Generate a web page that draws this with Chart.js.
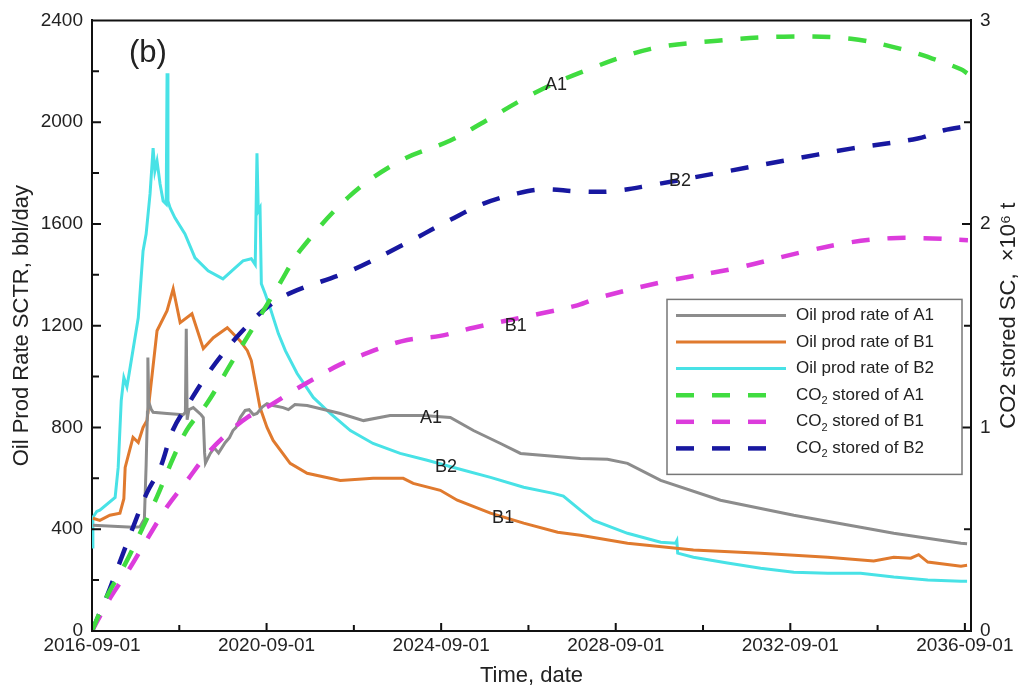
<!DOCTYPE html>
<html>
<head>
<meta charset="utf-8">
<script src="https://cdn.jsdelivr.net/npm/chart.js@4.4.1/dist/chart.umd.min.js"></script>
<style>
html, body { margin: 0; padding: 0; background: #fff; }
#wrap { width: 1026px; height: 692px; }
</style>
</head>
<body>
<div id="wrap"><canvas id="myChart" width="1026" height="692"></canvas></div>
<script>
// x values are years elapsed since 2016-09-01
const xTicks = [0, 2, 4, 6, 8, 10, 12, 14, 16, 18, 20];
const xTickLabels = ['2016-09-01', '', '2020-09-01', '', '2024-09-01', '', '2028-09-01', '', '2032-09-01', '', '2036-09-01'];
const yTicks = [0, 200, 400, 600, 800, 1000, 1200, 1400, 1600, 1800, 2000, 2200, 2400];
const yTickLabels = ['0', '', '400', '', '800', '', '1200', '', '1600', '', '2000', '', '2400'];
const y2Ticks = [0, 0.5, 1, 1.5, 2, 2.5, 3];
const y2TickLabels = ['0', '', '1', '', '2', '', '3'];

const seriesNames = ['Oil prod rate of A1', 'Oil prod rate of B1', 'Oil prod rate of B2',
    'CO₂ stored of A1', 'CO₂ stored of B1', 'CO₂ stored of B2'];

// Oil prod rate, bbl/day
const tOilA1 = [0.02, 0.94, 1.10, 1.20, 1.24, 1.27, 1.28, 1.30, 1.36, 1.40, 1.72, 2.09, 2.14, 2.16, 2.18, 2.22, 2.32, 2.50, 2.55,
    2.58, 2.60, 2.71, 2.80, 2.90, 3.05, 3.15, 3.23, 3.30, 3.40, 3.51, 3.60, 3.70, 3.78, 3.90, 4.01, 4.15, 4.38, 4.50, 4.65, 4.93,
    5.69, 6.22, 6.83, 7.59, 8.21, 8.74, 9.36, 9.82, 11.19, 11.81, 12.27, 13.03, 14.40, 16.08, 17.61, 18.37, 19.91, 20.05];
const oilA1 = [416, 408, 410, 440, 650, 860, 1075, 900, 870, 860, 855, 850, 860, 1188, 830, 870, 878, 850, 839,
    700, 660, 698, 720, 700, 740, 760, 788, 800, 840, 867, 870, 850, 855, 880, 894, 886, 878, 870, 890, 886,
    855, 827, 847, 847, 839, 788, 737, 698, 678, 675, 659, 592, 514, 455, 408, 384, 345, 343];

const tOilB1 = [0.02, 0.18, 0.41, 0.64, 0.73, 0.76, 0.94, 1.06, 1.17, 1.26, 1.49, 1.72, 1.86, 2.02, 2.29, 2.55, 2.78, 3.10,
    3.39, 3.56, 3.65, 3.85, 4.01, 4.15, 4.54, 4.93, 5.69, 6.44, 7.13, 7.36, 7.98, 8.37, 9.13, 9.89, 10.67, 11.19, 12.27,
    13.78, 15.32, 16.86, 17.91, 18.37, 18.76, 18.94, 19.15, 19.91, 20.05];
const oilB1 = [443, 435, 455, 463, 520, 643, 761, 741, 800, 827, 1180, 1259, 1345, 1212, 1247, 1110, 1153, 1192,
    1141, 1102, 1063, 878, 800, 749, 659, 620, 592, 600, 600, 580, 553, 514, 463, 424, 388, 376, 345,
    318, 306, 290, 275, 290, 286, 300, 271, 255, 258];

const tOilB2 = [0.00, 0.02, 0.11, 0.18, 0.53, 0.60, 0.67, 0.73, 0.80, 0.83, 1.06, 1.17, 1.24, 1.33, 1.40, 1.44, 1.49, 1.56,
    1.63, 1.70, 1.72, 1.74, 1.79, 1.90, 2.13, 2.36, 2.66, 3.00, 3.28, 3.46, 3.65, 3.74, 3.78, 3.81, 3.85, 3.88, 3.97, 4.08,
    4.27, 4.43, 4.70, 5.07, 5.46, 5.92, 6.44, 7.06, 7.68, 8.37, 9.13, 9.89, 10.57, 10.80, 11.19, 11.49, 12.27, 13.03,
    13.37, 13.40, 13.42, 13.78, 14.56, 15.32, 16.08, 16.86, 17.61, 18.37, 19.15, 19.91, 20.05];
const oilB2 = [330, 447, 470, 475, 525, 643, 906, 996, 960, 990, 1231, 1494, 1560, 1718, 1898, 1808, 1847, 1757,
    1690, 1678, 2192, 1690, 1663, 1624, 1561, 1467, 1416, 1384, 1427, 1455, 1463, 1440, 1878, 1650, 1663, 1365, 1325, 1271,
    1169, 1102, 1012, 918, 855, 788, 737, 698, 671, 639, 604, 565, 541, 530, 475, 435, 384, 349,
    345, 355, 306, 290, 267, 247, 231, 227, 227, 212, 200, 196, 196];

// CO2 stored, x10^6 t
const tCo2A1 = [0, 0.34, 0.76, 1.10, 1.49, 1.86, 2.18, 2.64, 3.23, 3.69, 4.31, 4.77, 5.92, 7.06, 8.21, 8.97, 10.11,
    11.26, 12.80, 14.33, 15.85, 17.39, 18.53, 19.29, 19.91, 20.05];
const co2A1 = [0, 0.17, 0.33, 0.48, 0.66, 0.85, 0.99, 1.12, 1.33, 1.49, 1.71, 1.87, 2.14, 2.31, 2.41, 2.50, 2.64,
    2.75, 2.86, 2.90, 2.92, 2.91, 2.86, 2.81, 2.76, 2.74];

const tCo2B1 = [0, 0.41, 0.87, 1.26, 1.72, 2.18, 2.64, 3.10, 3.56, 4.01, 4.61, 4.93, 5.69, 6.61, 7.22, 7.98, 8.74,
    10.28, 11.12, 11.65, 13.19, 14.70, 16.24, 17.39, 18.30, 19.06, 20.07];
const co2B1 = [0, 0.16, 0.31, 0.45, 0.61, 0.74, 0.87, 0.97, 1.05, 1.10, 1.18, 1.22, 1.31, 1.39, 1.43, 1.45, 1.49,
    1.56, 1.60, 1.64, 1.72, 1.78, 1.86, 1.91, 1.93, 1.93, 1.92];

const tCo2B2 = [0, 0.34, 0.64, 0.94, 1.26, 1.56, 1.86, 2.25, 2.64, 3.10, 3.56, 4.01, 4.54, 5.92, 7.06, 8.21, 8.97,
    9.75, 10.34, 11.12, 11.88, 12.80, 14.33, 15.85, 17.39, 18.92, 19.52, 20.05];
const co2B2 = [0, 0.17, 0.34, 0.51, 0.68, 0.80, 0.99, 1.13, 1.26, 1.39, 1.50, 1.59, 1.66, 1.77, 1.89, 2.02, 2.10,
    2.15, 2.17, 2.16, 2.16, 2.19, 2.25, 2.31, 2.37, 2.42, 2.46, 2.48];

// text labels placed next to curves
const curveLabels = [
    { text: 'A1', x: 10.63, y: 2.68, axis: 'y2' },
    { text: 'B2', x: 13.47, y: 2.21, axis: 'y2' },
    { text: 'B1', x: 9.71, y: 1.50, axis: 'y2' },
    { text: 'A1', x: 7.77, y: 839, axis: 'y' },
    { text: 'B2', x: 8.11, y: 643, axis: 'y' },
    { text: 'B1', x: 9.42, y: 443, axis: 'y' }
];

const FONT = "'Liberation Sans', Arial, sans-serif";
const TEXT = '#222';
const AXIS = '#111';
const rightTitle = 'CO2 stored SC,  ×10⁶ t';

function zip(ts, vs) {
    return ts.map((t, i) => ({ x: t, y: vs[i] }));
}

function lineSet(label, ts, vs, color, axis, dashed) {
    return {
        label: label,
        data: zip(ts, vs),
        yAxisID: axis,
        borderColor: color,
        backgroundColor: color,
        borderWidth: dashed ? 4.5 : 3,
        borderDash: dashed ? [18, 18] : [],
        pointRadius: 0,
        tension: dashed ? 0.35 : 0,
        order: dashed ? 1 : 2
    };
}

const framePlugin = {
    id: 'frame',
    afterDatasetsDraw(chart) {
        const ctx = chart.ctx;
        const a = chart.chartArea;
        const sx = chart.scales.x, sy = chart.scales.y, sy2 = chart.scales.y2;
        ctx.save();
        ctx.strokeStyle = AXIS;
        ctx.lineWidth = 2;
        ctx.beginPath();
        ctx.moveTo(a.left - 1, a.top);
        ctx.lineTo(a.right + 1, a.top);
        xTicks.forEach((v, i) => {
            const px = sx.getPixelForValue(v);
            const len = xTickLabels[i] ? 8 : 6;
            ctx.moveTo(px, a.bottom);
            ctx.lineTo(px, a.bottom - len);
        });
        yTicks.forEach((v, i) => {
            const py = sy.getPixelForValue(v);
            const len = yTickLabels[i] ? 9 : 7;
            ctx.moveTo(a.left, py);
            ctx.lineTo(a.left + len, py);
        });
        y2Ticks.forEach((v, i) => {
            const py = sy2.getPixelForValue(v);
            const len = y2TickLabels[i] ? 9 : 7;
            ctx.moveTo(a.right, py);
            ctx.lineTo(a.right - len, py);
        });
        ctx.stroke();
        ctx.restore();
    },
    afterDraw(chart) {
        const ctx = chart.ctx;
        const a = chart.chartArea;
        ctx.save();
        ctx.fillStyle = TEXT;

        // panel tag
        ctx.font = '31px ' + FONT;
        ctx.textAlign = 'left';
        ctx.textBaseline = 'middle';
        ctx.fillText('(b)', a.left + 37, a.top + 33);

        // curve labels
        ctx.font = '18px ' + FONT;
        ctx.textAlign = 'center';
        curveLabels.forEach(l => {
            const px = chart.scales.x.getPixelForValue(l.x);
            const py = chart.scales[l.axis].getPixelForValue(l.y);
            ctx.fillText(l.text, px, py);
        });

        // right axis title, reading bottom to top
        ctx.font = '22px ' + FONT;
        ctx.translate(1009, (a.top + a.bottom) / 2 - 10);
        ctx.rotate(-Math.PI / 2);
        ctx.textAlign = 'center';
        ctx.textBaseline = 'middle';
        ctx.fillText(rightTitle, 0, 0);
        ctx.restore();

        // legend
        ctx.save();
        const bx = a.right - 304, by = a.top + 279, bw = 295, bh = 175;
        ctx.fillStyle = '#fff';
        ctx.fillRect(bx, by, bw, bh);
        ctx.strokeStyle = '#777';
        ctx.lineWidth = 1.5;
        ctx.strokeRect(bx, by, bw, bh);
        ctx.textBaseline = 'middle';
        ctx.textAlign = 'left';
        chart.data.datasets.forEach((ds, i) => {
            const y = by + 16 + i * 26.6;
            ctx.strokeStyle = ds.borderColor;
            ctx.lineWidth = ds.borderDash.length ? 4.5 : 3;
            ctx.setLineDash(ds.borderDash);
            ctx.beginPath();
            ctx.moveTo(bx + 9, y);
            ctx.lineTo(bx + (ds.borderDash.length ? 104 : 119), y);
            ctx.stroke();
            ctx.setLineDash([]);
            ctx.fillStyle = TEXT;
            const tx = bx + 129;
            const parts = ds.label.split('₂');
            if (parts.length === 2) {
                ctx.font = '17px ' + FONT;
                ctx.fillText(parts[0], tx, y);
                let w = ctx.measureText(parts[0]).width;
                ctx.font = '11px ' + FONT;
                ctx.fillText('2', tx + w, y + 6);
                w += ctx.measureText('2').width;
                ctx.font = '17px ' + FONT;
                ctx.fillText(parts[1], tx + w, y);
            } else {
                ctx.font = '17px ' + FONT;
                ctx.fillText(ds.label, tx, y);
            }
        });
        ctx.restore();
    }
};

const ctx = document.getElementById('myChart').getContext('2d');
new Chart(ctx, {
    type: 'line',
    data: {
        datasets: [
            lineSet(seriesNames[0], tOilA1, oilA1, '#8c8c8c', 'y', false),
            lineSet(seriesNames[1], tOilB1, oilB1, '#e07a2e', 'y', false),
            lineSet(seriesNames[2], tOilB2, oilB2, '#48e2e6', 'y', false),
            lineSet(seriesNames[3], tCo2A1, co2A1, '#40dc40', 'y2', true),
            lineSet(seriesNames[4], tCo2B1, co2B1, '#dc3cdc', 'y2', true),
            lineSet(seriesNames[5], tCo2B2, co2B2, '#1818a0', 'y2', true)
        ]
    },
    options: {
        responsive: false,
        animation: false,
        layout: { padding: { top: 19, left: 0, right: 0, bottom: 0 } },
        plugins: {
            legend: { display: false },
            tooltip: { enabled: false }
        },
        scales: {
            x: {
                type: 'linear',
                min: 0,
                max: 20.14,
                afterBuildTicks: s => { s.ticks = xTicks.map(v => ({ value: v })); },
                afterFit: s => { s.height = 61; },
                grid: { display: false, drawTicks: false },
                border: { display: true, width: 2, color: AXIS },
                ticks: {
                    autoSkip: false,
                    maxRotation: 0,
                    padding: 3,
                    color: TEXT,
                    font: { family: FONT, size: 19 },
                    callback: v => xTickLabels[xTicks.indexOf(v)] || ''
                },
                title: {
                    display: true,
                    text: 'Time, date',
                    color: TEXT,
                    font: { family: FONT, size: 22 },
                    padding: { top: 0, bottom: 3 }
                }
            },
            y: {
                position: 'left',
                min: 0,
                max: 2400,
                afterBuildTicks: s => { s.ticks = yTicks.map(v => ({ value: v })); },
                afterFit: s => { s.width = 92; },
                grid: { display: false, drawTicks: false },
                border: { display: true, width: 2, color: AXIS },
                ticks: {
                    autoSkip: false,
                    padding: 9,
                    color: TEXT,
                    font: { family: FONT, size: 19 },
                    callback: v => yTickLabels[yTicks.indexOf(v)] || ''
                },
                title: {
                    display: true,
                    text: 'Oil Prod Rate SCTR, bbl/day',
                    color: TEXT,
                    font: { family: FONT, size: 22 },
                    padding: { top: 9, bottom: 0 }
                }
            },
            y2: {
                position: 'right',
                min: 0,
                max: 3,
                afterBuildTicks: s => { s.ticks = y2Ticks.map(v => ({ value: v })); },
                afterFit: s => { s.width = 55; },
                grid: { display: false, drawTicks: false },
                border: { display: true, width: 2, color: AXIS },
                ticks: {
                    autoSkip: false,
                    padding: 9,
                    color: TEXT,
                    font: { family: FONT, size: 19 },
                    callback: v => y2TickLabels[y2Ticks.indexOf(v)] || ''
                }
            }
        }
    },
    plugins: [framePlugin]
});
</script>
</body>
</html>
